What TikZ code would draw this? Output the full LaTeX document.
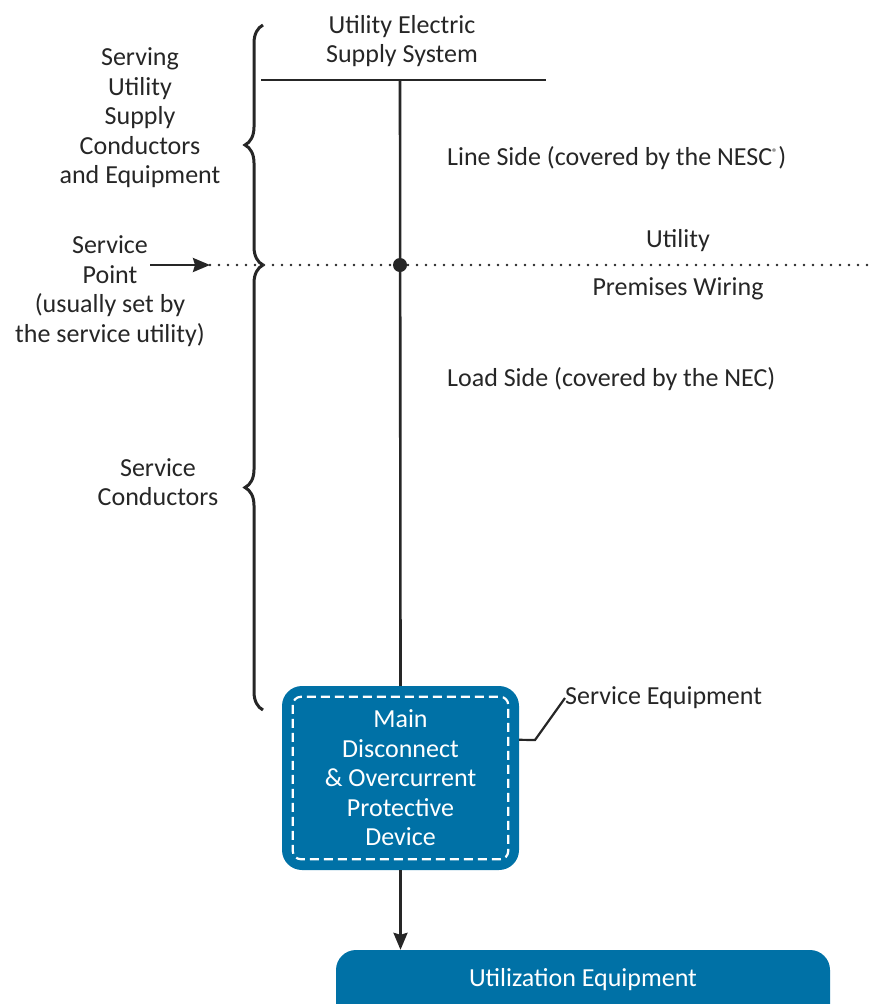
\documentclass[tikz,border=0pt]{standalone}
\usepackage{fontspec}
\setmainfont{Carlito}
\usetikzlibrary{arrows.meta,decorations.pathreplacing}
\definecolor{necblue}{HTML}{0071A6}
\tikzset{txt/.style={align=center,inner sep=0pt,font=\fontsize{26}{29.5}\selectfont,text=black!85},
  wire/.style={line width=2.6pt,black!85},
  bracket/.style={line width=3pt,black!85,decorate,decoration={brace,amplitude=18pt}},
  bluebox/.style={fill=necblue,rounded corners=20pt,inner sep=0pt,align=center,
     font=\fontsize{26}{29.5}\selectfont,text=white},
  tip/.style={-{Stealth[length=17pt,width=14pt,inset=2pt]}}}
\begin{document}
\begin{tikzpicture}[x=1pt,y=-1pt]
  \useasboundingbox (0,0) rectangle (875,1004);
  % labels
  \node[txt] (ues) at (402,41) {Utility Electric\\Supply System};
  \node[txt] (serving) at (140,118) {Serving\\Utility\\Supply\\Conductors\\and Equipment};
  \node[txt] (spt) at (110,291) {Service\\Point\\(usually set by\\the service utility)};
  \node[txt] (svc) at (158,482) {Service\\Conductors};
  \node[txt,anchor=west] (line) at (447,158) {Line Side (covered by the NESC\textsuperscript{\fontsize{11}{11}\selectfont ®})};
  \node[txt,anchor=west] (load) at (447,379) {Load Side (covered by the NEC)};
  \node[txt] (util) at (678,241) {Utility};
  \node[txt] (prem) at (678,289) {Premises Wiring};
  \node[txt,anchor=west] (se) at (565,698) {Service Equipment};
  % boxes
  \node[bluebox,minimum width=237pt,minimum height=184pt] (main) at (400.5,778)
    {Main\\Disconnect\\\& Overcurrent\\Protective\\Device};
  \draw[white,line width=2.2pt,dash pattern=on 9pt off 5pt,rounded corners=8pt]
    ([shift={(11,11)}]main.north west) rectangle ([shift={(-11,-11)}]main.south east);
  \node[bluebox,minimum width=494pt,minimum height=110pt,text depth=55pt] (ueq) at (583,1005)
    {Utilization Equipment};
  % supply line and service point
  \coordinate (sysL) at (261,80);
  \coordinate (sysR) at (546,80);
  \coordinate (sysT) at (400,80);
  \draw[wire] (sysL) -- (sysR);
  \draw[wire] (sysT) -- (main.north);
  \node[circle,fill=black!85,inner sep=0pt,minimum size=14pt] (sp) at (400,265) {};
  \coordinate (dotL) at (210,265);
  \coordinate (dotR) at (873,265);
  \draw[black!85,line width=2.8pt,line cap=round,dash pattern=on 0pt off 9pt] (dotL) -- (dotR);
  \coordinate (arr) at (150,265);
  \draw[wire,tip] (arr) -- (dotL);
  % braces
  \coordinate (b1) at (263,25);
  \coordinate (b2) at (263,265);
  \coordinate (b3) at (263,710);
  \draw[bracket] (b2) -- (b1);
  \draw[bracket] (b3) -- (b2);
  % leader and output
  \coordinate (k1) at (535,740);
  \draw[wire,line width=2.2pt] ([yshift=-54pt]main.north east) -- (k1) -- (se.west);
  \draw[wire,tip] (main.south) -- (main.south |- ueq.north);
\end{tikzpicture}
\end{document}
